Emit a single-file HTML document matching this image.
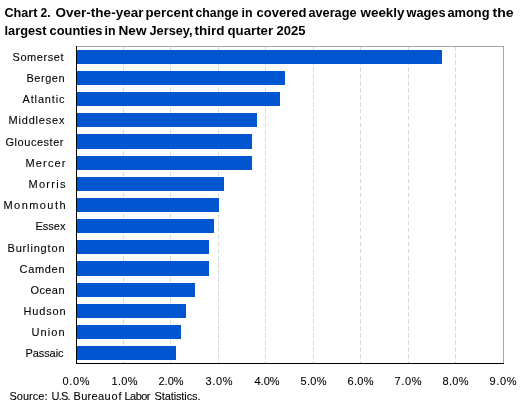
<!DOCTYPE html>
<html><head><meta charset="utf-8"><style>
html,body{margin:0;padding:0;background:#fff;width:525px;height:403px;overflow:hidden}
svg{display:block;will-change:transform}
.t{font-family:"Liberation Sans",sans-serif;font-weight:bold;font-size:12.5px;fill:#000}
.lab{font-family:"Liberation Sans",sans-serif;font-size:11px;fill:#000;stroke:#000;stroke-width:0.1}
</style></head><body>
<svg width="525" height="403" viewBox="0 0 525 403">
<g shape-rendering="crispEdges">
<line x1="123.5" y1="46" x2="123.5" y2="363" stroke="#d9d9d9" stroke-width="1" stroke-dasharray="4.5 2.5"/>
<line x1="170.5" y1="46" x2="170.5" y2="363" stroke="#d9d9d9" stroke-width="1" stroke-dasharray="4.5 2.5"/>
<line x1="218.5" y1="46" x2="218.5" y2="363" stroke="#d9d9d9" stroke-width="1" stroke-dasharray="4.5 2.5"/>
<line x1="265.5" y1="46" x2="265.5" y2="363" stroke="#d9d9d9" stroke-width="1" stroke-dasharray="4.5 2.5"/>
<line x1="313.5" y1="46" x2="313.5" y2="363" stroke="#d9d9d9" stroke-width="1" stroke-dasharray="4.5 2.5"/>
<line x1="360.5" y1="46" x2="360.5" y2="363" stroke="#d9d9d9" stroke-width="1" stroke-dasharray="4.5 2.5"/>
<line x1="408.5" y1="46" x2="408.5" y2="363" stroke="#d9d9d9" stroke-width="1" stroke-dasharray="4.5 2.5"/>
<line x1="455.5" y1="46" x2="455.5" y2="363" stroke="#d9d9d9" stroke-width="1" stroke-dasharray="4.5 2.5"/>
<rect x="77" y="50" width="365" height="14" fill="#0056d0"/>
<rect x="77" y="71" width="208" height="14" fill="#0056d0"/>
<rect x="77" y="92" width="203" height="14" fill="#0056d0"/>
<rect x="77" y="113" width="180" height="14" fill="#0056d0"/>
<rect x="77" y="134" width="175" height="15" fill="#0056d0"/>
<rect x="77" y="156" width="175" height="14" fill="#0056d0"/>
<rect x="77" y="177" width="147" height="14" fill="#0056d0"/>
<rect x="77" y="198" width="142" height="14" fill="#0056d0"/>
<rect x="77" y="219" width="137" height="14" fill="#0056d0"/>
<rect x="77" y="240" width="132" height="14" fill="#0056d0"/>
<rect x="77" y="261" width="132" height="15" fill="#0056d0"/>
<rect x="77" y="283" width="118" height="14" fill="#0056d0"/>
<rect x="77" y="304" width="109" height="14" fill="#0056d0"/>
<rect x="77" y="325" width="104" height="14" fill="#0056d0"/>
<rect x="77" y="346" width="99" height="14" fill="#0056d0"/>
<line x1="76" y1="46.5" x2="504" y2="46.5" stroke="#a6a6a6"/>
<line x1="503.5" y1="46" x2="503.5" y2="364" stroke="#a6a6a6"/>
<line x1="76.5" y1="46" x2="76.5" y2="364" stroke="#000"/>
<line x1="76" y1="363.5" x2="504" y2="363.5" stroke="#000"/>
</g>
<text x="4.50" y="17" class="t" textLength="33.00" lengthAdjust="spacingAndGlyphs">Chart</text>
<text x="40.50" y="17" class="t" textLength="10.00" lengthAdjust="spacingAndGlyphs">2.</text>
<text x="55.50" y="17" class="t" textLength="88.00" lengthAdjust="spacingAndGlyphs">Over-the-year</text>
<text x="145.50" y="17" class="t" textLength="48.00" lengthAdjust="spacingAndGlyphs">percent</text>
<text x="195.50" y="17" class="t" textLength="43.00" lengthAdjust="spacingAndGlyphs">change</text>
<text x="241.50" y="17" class="t" textLength="11.00" lengthAdjust="spacingAndGlyphs">in</text>
<text x="256.50" y="17" class="t" textLength="50.00" lengthAdjust="spacingAndGlyphs">covered</text>
<text x="308.50" y="17" class="t" textLength="48.00" lengthAdjust="spacingAndGlyphs">average</text>
<text x="360.50" y="17" class="t" textLength="44.00" lengthAdjust="spacingAndGlyphs">weekly</text>
<text x="406.50" y="17" class="t" textLength="39.00" lengthAdjust="spacingAndGlyphs">wages</text>
<text x="447.50" y="17" class="t" textLength="42.00" lengthAdjust="spacingAndGlyphs">among</text>
<text x="492.50" y="17" class="t" textLength="21.00" lengthAdjust="spacingAndGlyphs">the</text>
<text x="4.50" y="35" class="t" textLength="42.00" lengthAdjust="spacingAndGlyphs">largest</text>
<text x="49.50" y="35" class="t" textLength="53.00" lengthAdjust="spacingAndGlyphs">counties</text>
<text x="104.50" y="35" class="t" textLength="11.00" lengthAdjust="spacingAndGlyphs">in</text>
<text x="118.50" y="35" class="t" textLength="28.00" lengthAdjust="spacingAndGlyphs">New</text>
<text x="149.50" y="35" class="t" textLength="43.00" lengthAdjust="spacingAndGlyphs">Jersey,</text>
<text x="194.50" y="35" class="t" textLength="30.00" lengthAdjust="spacingAndGlyphs">third</text>
<text x="227.50" y="35" class="t" textLength="45.60" lengthAdjust="spacingAndGlyphs">quarter</text>
<text x="276.50" y="35" class="t" textLength="29.00" lengthAdjust="spacingAndGlyphs">2025</text>
<text x="12.50" y="61" class="lab" textLength="51.00" lengthAdjust="spacing">Somerset</text>
<text x="26.50" y="82" class="lab" textLength="38.00" lengthAdjust="spacing">Bergen</text>
<text x="22.50" y="103" class="lab" textLength="42.00" lengthAdjust="spacing">Atlantic</text>
<text x="8.50" y="124" class="lab" textLength="56.00" lengthAdjust="spacing">Middlesex</text>
<text x="5.50" y="146" class="lab" textLength="58.00" lengthAdjust="spacing">Gloucester</text>
<text x="25.50" y="167" class="lab" textLength="40.00" lengthAdjust="spacing">Mercer</text>
<text x="28.50" y="188" class="lab" textLength="37.00" lengthAdjust="spacing">Morris</text>
<text x="3.50" y="209" class="lab" textLength="62.00" lengthAdjust="spacing">Monmouth</text>
<text x="35.50" y="230" class="lab" textLength="30.00" lengthAdjust="spacing">Essex</text>
<text x="7.50" y="252" class="lab" textLength="57.00" lengthAdjust="spacing">Burlington</text>
<text x="19.50" y="273" class="lab" textLength="45.00" lengthAdjust="spacing">Camden</text>
<text x="30.50" y="294" class="lab" textLength="34.00" lengthAdjust="spacing">Ocean</text>
<text x="23.50" y="315" class="lab" textLength="42.00" lengthAdjust="spacing">Hudson</text>
<text x="31.50" y="336" class="lab" textLength="33.00" lengthAdjust="spacing">Union</text>
<text x="25.50" y="357" class="lab" textLength="38.00" lengthAdjust="spacing">Passaic</text>
<text x="62.50" y="385" class="lab" textLength="27.00" lengthAdjust="spacing">0.0%</text>
<text x="111.50" y="385" class="lab" textLength="26.00" lengthAdjust="spacing">1.0%</text>
<text x="158.50" y="385" class="lab" textLength="25.00" lengthAdjust="spacing">2.0%</text>
<text x="205.50" y="385" class="lab" textLength="27.00" lengthAdjust="spacing">3.0%</text>
<text x="254.50" y="385" class="lab" textLength="25.00" lengthAdjust="spacing">4.0%</text>
<text x="300.50" y="385" class="lab" textLength="26.00" lengthAdjust="spacing">5.0%</text>
<text x="347.50" y="385" class="lab" textLength="26.00" lengthAdjust="spacing">6.0%</text>
<text x="394.50" y="385" class="lab" textLength="27.00" lengthAdjust="spacing">7.0%</text>
<text x="442.50" y="385" class="lab" textLength="26.00" lengthAdjust="spacing">8.0%</text>
<text x="489.50" y="385" class="lab" textLength="27.00" lengthAdjust="spacing">9.0%</text>
<text x="9.50" y="400" class="lab" textLength="38.00" lengthAdjust="spacing">Source:</text>
<text x="51.50" y="400" class="lab" textLength="19.00" lengthAdjust="spacing">U.S.</text>
<text x="73.50" y="400" class="lab" textLength="37.00" lengthAdjust="spacing">Bureau</text>
<text x="111.50" y="400" class="lab" textLength="10.00" lengthAdjust="spacing">of</text>
<text x="124.50" y="400" class="lab" textLength="26.00" lengthAdjust="spacing">Labor</text>
<text x="154.50" y="400" class="lab" textLength="46.00" lengthAdjust="spacing">Statistics.</text>
</svg>
</body></html>
